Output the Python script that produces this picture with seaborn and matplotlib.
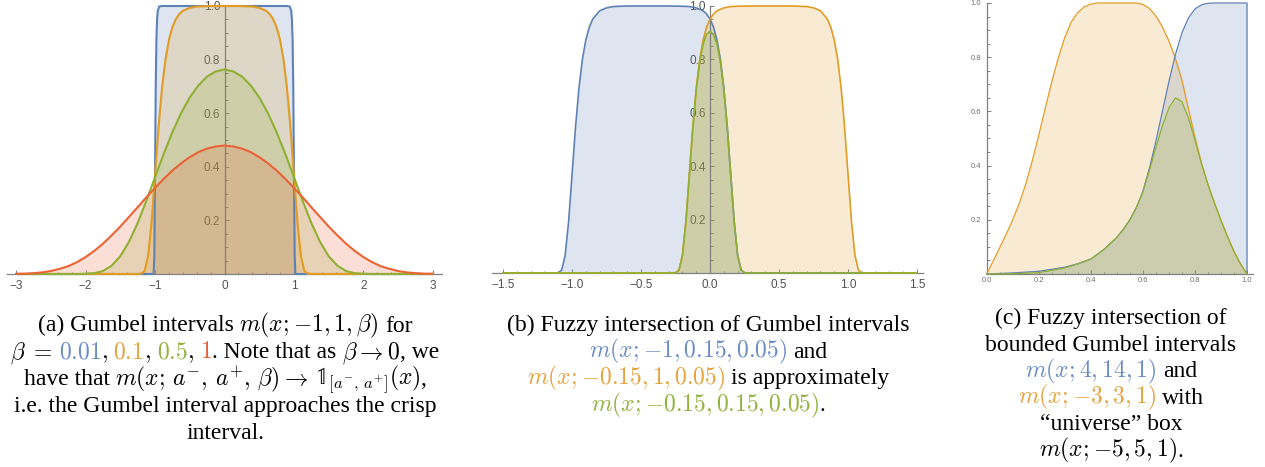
import matplotlib
matplotlib.use("Agg")
import matplotlib.pyplot as plt
from matplotlib.ticker import MultipleLocator
import numpy as np
import seaborn as sns

# ---- colours (Mathematica defaults) ----
BLUE = "#5e81b5"
ORANGE = "#e19c24"
GREEN = "#8fb032"
RED = "#eb6235"
BLUE_T = "#6a8cc6"
ORANGE_T = "#e6a23c"
GREEN_T = "#8fb23c"
RED_T = "#e8613c"
K = "black"

# ---- panel (a): m(x; -1, 1, beta), beta = 0.01, 0.1, 0.5, 1 ----
a_blue_x = [-3, -1.03, -1.02, -1.01, -1.0, -0.99, -0.98, -0.97, -0.96, -0.94, -0.9,
            0.9, 0.94, 0.96, 0.97, 0.98, 0.99, 1.0, 1.01, 1.02, 1.03, 3]
a_blue_y = [0, 0, 0.001, 0.066, 0.368, 0.692, 0.873, 0.951, 0.982, 0.998, 1.0,
            1.0, 0.998, 0.982, 0.951, 0.873, 0.692, 0.368, 0.066, 0.001, 0, 0]

a_orange_x = [-3, -1.3, -1.25, -1.2, -1.15, -1.1, -1.05, -1.0, -0.95, -0.9, -0.85, -0.8,
              -0.75, -0.7, -0.65, -0.6, -0.5, -0.4, -0.2, 0, 0.2, 0.4, 0.5, 0.6, 0.65,
              0.7, 0.75, 0.8, 0.85, 0.9, 0.95, 1.0, 1.05, 1.1, 1.15, 1.2, 1.25, 1.3, 3]
a_orange_y = [0, 0, 0, 0.001, 0.011, 0.066, 0.192, 0.368, 0.545, 0.692, 0.800, 0.873,
              0.921, 0.951, 0.970, 0.982, 0.993, 0.998, 1.0, 1.0, 1.0, 0.998, 0.993, 0.982, 0.970,
              0.951, 0.921, 0.873, 0.800, 0.692, 0.545, 0.368, 0.192, 0.066, 0.011, 0.001, 0, 0, 0]

a_x = [-3, -2.875, -2.75, -2.625, -2.5, -2.375, -2.25, -2.125, -2, -1.875, -1.75, -1.625,
       -1.5, -1.375, -1.25, -1.125, -1, -0.875, -0.75, -0.625, -0.5, -0.375, -0.25, -0.125,
       0, 0.125, 0.25, 0.375, 0.5, 0.625, 0.75, 0.875, 1, 1.125, 1.25, 1.375, 1.5, 1.625,
       1.75, 1.875, 2, 2.125, 2.25, 2.375, 2.5, 2.625, 2.75, 2.875, 3]
a_green_y = [0, 0, 0, 0, 0, 0, 0, 0, 0.001, 0.003, 0.011, 0.031,
             0.066, 0.120, 0.190, 0.273, 0.361, 0.448, 0.529, 0.600, 0.659, 0.704, 0.737, 0.756,
             0.763, 0.756, 0.737, 0.704, 0.659, 0.600, 0.529, 0.448, 0.361, 0.273, 0.190, 0.120,
             0.066, 0.031, 0.011, 0.003, 0.001, 0, 0, 0, 0, 0, 0, 0, 0]
a_red_y = [0.001, 0.001, 0.003, 0.006, 0.011, 0.019, 0.029, 0.044, 0.063, 0.086, 0.113, 0.144,
           0.177, 0.213, 0.249, 0.286, 0.321, 0.355, 0.386, 0.413, 0.436, 0.455, 0.468, 0.476,
           0.479, 0.476, 0.468, 0.455, 0.436, 0.413, 0.386, 0.355, 0.321, 0.286, 0.249, 0.213,
           0.177, 0.144, 0.113, 0.086, 0.063, 0.044, 0.029, 0.019, 0.011, 0.006, 0.003, 0.001, 0.001]

# ---- panel (b): fuzzy intersection ----
b_blue_x = [-1.5, -1.15, -1.125, -1.1, -1.075, -1.05, -1.025, -1.0, -0.975, -0.95, -0.925,
            -0.9, -0.875, -0.85, -0.8, -0.75, -0.7, -0.6, -0.5, -0.3, -0.2, -0.15, -0.1,
            -0.05, -0.025, 0, 0.025, 0.05, 0.075, 0.1, 0.125, 0.15, 0.175, 0.2, 0.225, 0.25,
            0.3, 1.5]
b_blue_y = [0, 0, 0, 0.001, 0.011, 0.066, 0.192, 0.368, 0.545, 0.692, 0.800,
            0.873, 0.921, 0.951, 0.982, 0.993, 0.998, 1.0, 1.0, 1.0, 0.999, 0.998, 0.993,
            0.982, 0.970, 0.951, 0.921, 0.873, 0.800, 0.692, 0.545, 0.368, 0.192, 0.066, 0.011, 0.001,
            0, 0]
b_orange_x = [-1.5, -0.3, -0.25, -0.225, -0.2, -0.175, -0.15, -0.125, -0.1, -0.075, -0.05,
              -0.025, 0, 0.025, 0.05, 0.1, 0.15, 0.2, 0.3, 0.5, 0.6, 0.7, 0.75, 0.8, 0.85,
              0.875, 0.9, 0.925, 0.95, 0.975, 1.0, 1.025, 1.05, 1.075, 1.1, 1.125, 1.15, 1.5]
b_orange_y = [0, 0, 0.001, 0.011, 0.066, 0.192, 0.368, 0.545, 0.692, 0.800, 0.873,
              0.921, 0.951, 0.970, 0.982, 0.993, 0.998, 0.999, 1.0, 1.0, 1.0, 0.998, 0.993, 0.982, 0.951,
              0.921, 0.873, 0.800, 0.692, 0.545, 0.368, 0.192, 0.066, 0.011, 0.001, 0, 0, 0]
b_green_x = [-1.5, -0.3, -0.25, -0.225, -0.2, -0.175, -0.15, -0.125, -0.1, -0.075, -0.05,
             -0.025, 0, 0.025, 0.05, 0.075, 0.1, 0.125, 0.15, 0.175, 0.2, 0.225, 0.25, 0.3, 1.5]
b_green_y = [0, 0, 0.001, 0.011, 0.066, 0.192, 0.367, 0.543, 0.688, 0.791, 0.858,
             0.894, 0.905, 0.894, 0.858, 0.791, 0.688, 0.543, 0.367, 0.192, 0.066, 0.011, 0.001, 0, 0]

# ---- panel (c): bounded Gumbel intervals on [0, 1] ----
c_orange_x = [0, 0.025, 0.05, 0.075, 0.1, 0.125, 0.15, 0.175, 0.2, 0.225, 0.25, 0.275, 0.3,
              0.325, 0.35, 0.375, 0.4, 0.425, 0.575, 0.6, 0.625, 0.65, 0.675, 0.7, 0.725,
              0.75, 0.775, 0.8, 0.825, 0.85, 0.875, 0.9, 0.925, 0.95, 0.975, 1.0]
c_orange_y = [0, 0.048, 0.097, 0.147, 0.200, 0.260, 0.332, 0.417, 0.512, 0.612, 0.709, 0.797, 0.873,
              0.930, 0.965, 0.986, 0.996, 1.0, 1.0, 0.995, 0.980, 0.952, 0.912, 0.86, 0.795,
              0.715, 0.61, 0.505, 0.41, 0.33, 0.262, 0.198, 0.138, 0.083, 0.037, 0]
c_blue_x = [0, 0.1, 0.2, 0.3, 0.35, 0.4, 0.45, 0.5, 0.525, 0.55, 0.575, 0.6, 0.625, 0.65,
            0.675, 0.7, 0.725, 0.75, 0.775, 0.8, 0.825, 0.85, 0.875, 1.0, 1.0]
c_blue_y = [0, 0.004, 0.01, 0.025, 0.038, 0.055, 0.09, 0.135, 0.165, 0.20, 0.245, 0.305, 0.39, 0.49,
            0.60, 0.71, 0.81, 0.89, 0.945, 0.978, 0.993, 0.999, 1.0, 1.0, 0]
c_green_x = [0, 0.1, 0.2, 0.3, 0.35, 0.4, 0.45, 0.5, 0.525, 0.55, 0.575, 0.6, 0.625, 0.65,
             0.675, 0.7, 0.725, 0.75, 0.775, 0.8, 0.825, 0.85, 0.875, 0.9, 0.925, 0.95, 0.975, 1.0]
c_green_y = [0, 0.001, 0.005, 0.022, 0.037, 0.055, 0.09, 0.135, 0.165, 0.20, 0.245, 0.303, 0.382, 0.466,
             0.547, 0.613, 0.65, 0.636, 0.576, 0.494, 0.407, 0.33, 0.262, 0.198, 0.138, 0.083, 0.037, 0]

# ---- ticks ----
a_xticks = [-3, -2, -1, 0, 1, 2, 3]
a_xlabels = ["\u22123", "\u22122", "\u22121", "0", "1", "2", "3"]
b_xticks = [-1.5, -1.0, -0.5, 0.0, 0.5, 1.0, 1.5]
b_xlabels = ["\u22121.5", "\u22121.0", "\u22120.5", "0.0", "0.5", "1.0", "1.5"]
c_xticks = [0.0, 0.2, 0.4, 0.6, 0.8, 1.0]
c_xlabels = ["0.0", "0.2", "0.4", "0.6", "0.8", "1.0"]
yticks = [0.2, 0.4, 0.6, 0.8, 1.0]
ylabels = ["0.2", "0.4", "0.6", "0.8", "1.0"]

# ---- captions (a leading/trailing blank = one word space) ----
cap_a = [
    [("(a) Gumbel intervals ", K), (r"$m(x;{-1},1,\beta)$", K), (" for", K)],
    [(r"$\beta\;=$ ", K), (r"$0.01$", BLUE_T), (r"$,$ ", K), (r"$0.1$", ORANGE_T),
     (r"$,$ ", K), (r"$0.5$", GREEN_T), (r"$,$ ", K), (r"$1$", RED_T), (". Note that as ", K),
     (r"$\beta\rightarrow0$", K), (", we", K)],
    [("have that ", K), (r"$m(x;\,a^{-},\,a^{+},\,\beta)\rightarrow$ ", K),
     (r"$\mathbb{1}_{[a^{-},\,a^{+}]}(x)$", K), (",", K)],
    [("i.e. the Gumbel interval approaches the crisp", K)],
    [("interval.", K)],
]
cap_b = [
    [("(b) Fuzzy intersection of Gumbel intervals", K)],
    [(r"$m(x;{-1},0.15,0.05)$", BLUE_T), (" and", K)],
    [(r"$m(x;{-0.15},1,0.05)$", ORANGE_T), (" is approximately", K)],
    [(r"$m(x;{-0.15},0.15,0.05)$", GREEN_T), (".", K)],
]
cap_c = [
    [("(c) Fuzzy intersection of", K)],
    [("bounded Gumbel intervals", K)],
    [(r"$m(x;4,14,1)$", BLUE_T), (" and", K)],
    [(r"$m(x;{-3},3,1)$", ORANGE_T), (" with", K)],
    [("\u201cuniverse\u201d box", K)],
    [(r"$m(x;{-5},5,1)$", K), (".", K)],
]

W, H = 1265, 467
sns.set_theme(style="white")
plt.rcParams["font.family"] = ["Liberation Sans", "DejaVu Sans"]
plt.rcParams["mathtext.fontset"] = "cm"

fig = plt.figure(figsize=(W / 100, H / 100), dpi=100)


def make_axes(left, right, y0, y1, xlim):
    ax = fig.add_axes([left / W, (H - y0) / H, (right - left) / W, (y0 - y1) / H])
    ax.set_xlim(*xlim)
    ax.set_ylim(0, 1)
    ax.patch.set_alpha(0)
    return ax


def style_axes(ax, xticks, xlabels, xminor, lsize, lcolor, ypad, xpad):
    for s in ["top", "right"]:
        ax.spines[s].set_visible(False)
    ax.spines["left"].set_position(("data", 0))
    ax.spines["bottom"].set_position(("data", 0))
    for s in ["left", "bottom"]:
        ax.spines[s].set_color("#808080")
        ax.spines[s].set_linewidth(0.9)
    ax.set_xticks(xticks)
    ax.set_xticklabels(xlabels)
    ax.set_yticks(yticks)
    ax.set_yticklabels(ylabels)
    ax.xaxis.set_minor_locator(MultipleLocator(xminor))
    ax.yaxis.set_minor_locator(MultipleLocator(0.05))
    ax.tick_params(which="both", direction="in", color="#808080", width=0.7,
                   labelsize=lsize, labelcolor=lcolor, bottom=True, left=True)
    ax.tick_params(which="major", length=3.2)
    ax.tick_params(which="minor", length=1.8)
    ax.tick_params(axis="x", pad=xpad)
    ax.tick_params(axis="y", pad=ypad)
    ax.grid(False)


def draw_curves(ax, curves, lw):
    for x, y, c in curves:
        ax.fill_between(x, 0, y, color=c, alpha=0.2, lw=0, zorder=1)
    for x, y, c in curves:
        sns.lineplot(x=np.array(x), y=np.array(y), color=c, lw=lw, estimator=None,
                     sort=False, ax=ax, zorder=3, clip_on=False)
    ax.set_xlabel("")
    ax.set_ylabel("")


ax_a = make_axes(7, 442, 274, 6, (-3.13, 3.13))
draw_curves(ax_a, [(a_blue_x, a_blue_y, BLUE), (a_orange_x, a_orange_y, ORANGE),
                   (a_x, a_green_y, GREEN), (a_x, a_red_y, RED)], 1.5)
style_axes(ax_a, a_xticks, a_xlabels, 0.2, 8.5, "#505050", 3, 4)

ax_b = make_axes(492, 923, 273, 6, (-1.58, 1.543))
draw_curves(ax_b, [(b_blue_x, b_blue_y, BLUE), (b_orange_x, b_orange_y, ORANGE),
                   (b_green_x, b_green_y, GREEN)], 1.2)
style_axes(ax_b, b_xticks, b_xlabels, 0.1, 8.5, "#505050", 3, 4)

ax_c = make_axes(986.7, 1253, 274, 3, (0, 1.023))
draw_curves(ax_c, [(c_orange_x, c_orange_y, ORANGE), (c_blue_x, c_blue_y, BLUE),
                   (c_green_x, c_green_y, GREEN)], 0.9)
style_axes(ax_c, c_xticks, c_xlabels, 0.05, 5.5, "#707070", 4, 2.5)

# ---- captions with coloured pieces ----
CAP_SIZE = 17
SPACE = CAP_SIZE * 100 / 72 * 0.25
renderer = fig.canvas.get_renderer()


def caption(cx, base, step, lines):
    for i, segs in enumerate(lines):
        y = base + i * step
        items = []
        for s, c in segs:
            before = SPACE if s.startswith(" ") else 0
            after = SPACE if s.endswith(" ") else 0
            t = fig.text(0, 1 - y / H, s.strip(), color=c, fontsize=CAP_SIZE,
                         family=["Liberation Serif", "DejaVu Serif"], ha="left", va="baseline")
            items.append((t, before, after))
        widths = [t.get_window_extent(renderer).width for t, _, _ in items]
        total = sum(widths) + sum(b + a for _, b, a in items)
        x = cx - total / 2
        for (t, b, a), w in zip(items, widths):
            x += b
            t.set_x(x / W)
            x += w + a


caption(225, 331.5, 26.9, cap_a)
caption(708, 330.7, 26.8, cap_b)
caption(1111, 324.3, 26.5, cap_c)

fig.savefig("out.png", dpi=100)
